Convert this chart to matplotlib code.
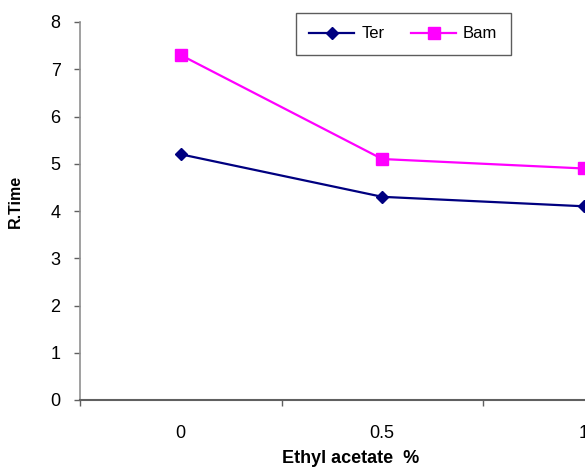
import matplotlib.pyplot as plt
from matplotlib.ticker import FixedLocator, NullFormatter

categories = ["0", "0.5", "1"]
ter = [5.2, 4.3, 4.1]
bam = [7.3, 5.1, 4.9]

plt.rcParams["font.family"] = ["Liberation Sans", "DejaVu Sans"]

fig = plt.figure(figsize=(5.85, 4.68), dpi=100)
# axes runs past the right edge, like the cropped original
ax = fig.add_axes([80 / 585, 68 / 468, 604.5 / 585, 378 / 468])

x = list(range(len(categories)))
ax.plot(x, ter, color="#000080", marker="D", markersize=6, lw=1.6, label="Ter")
ax.plot(x, bam, color="#ff00ff", marker="s", markersize=8, lw=1.6, label="Bam")

ax.set_xlim(-0.5, len(categories) - 0.5)
ax.set_ylim(0, 8)
ax.set_yticks(range(0, 9))

# ticks between categories, labels at centres
ax.xaxis.set_major_locator(FixedLocator([i - 0.5 for i in range(len(categories) + 1)]))
ax.xaxis.set_major_formatter(NullFormatter())
ax.xaxis.set_minor_locator(FixedLocator(x))
ax.set_xticklabels(categories, minor=True)
ax.tick_params(axis="x", which="major", direction="out", length=4, width=1, color="#606060")
ax.tick_params(axis="x", which="minor", length=0, pad=18, labelsize=13)
ax.tick_params(axis="y", direction="out", length=4, width=1, color="#606060",
               labelsize=13, pad=10)

for side in ["top", "right"]:
    ax.spines[side].set_visible(False)
ax.spines["left"].set_color("#909090")
ax.spines["bottom"].set_color("#606060")
ax.spines["left"].set_linewidth(1.2)
ax.spines["bottom"].set_linewidth(1.5)

ax.set_ylabel("R.Time", fontsize=11.5, fontweight="bold")
ax.yaxis.set_label_coords(-57 / 604.5, (400 - 201) / 378)
ax.set_xlabel("Ethyl acetate  %", fontsize=13, fontweight="bold")
ax.xaxis.set_label_coords((351 - 80) / 604.5, -50 / 378)

leg = ax.legend(loc="upper left", bbox_to_anchor=((296 - 80) / 604.5, (468 - 13 - 68) / 378),
                borderaxespad=0, ncol=2, fontsize=12, frameon=True, fancybox=False,
                edgecolor="#333333", handlelength=2.7, columnspacing=1.6,
                borderpad=0.8, handletextpad=0.42)
leg.get_frame().set_linewidth(1.0)

fig.savefig("out.png", dpi=100)
